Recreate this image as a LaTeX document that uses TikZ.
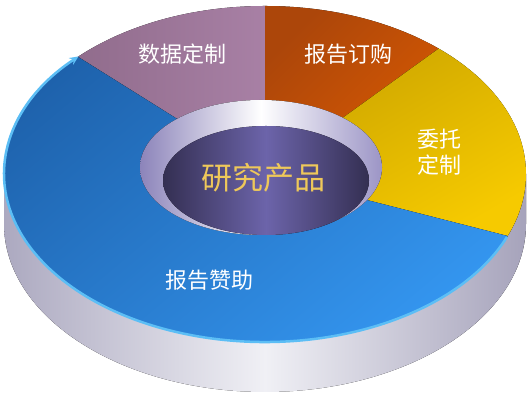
\documentclass[tikz,border=0pt]{standalone}
\usepackage{fontspec}
\usepackage{tikz}
\usetikzlibrary{arrows.meta}
\newfontfamily\cjk{Noto Sans CJK SC}
\definecolor{sideL}{RGB}{172, 169, 192}
\definecolor{sideM}{RGB}{240, 240, 245}
\definecolor{sideR}{RGB}{166, 163, 187}
\definecolor{mauveL}{RGB}{135, 100, 130}
\definecolor{mauveR}{RGB}{168, 128, 165}
\definecolor{rustL}{RGB}{172, 70, 10}
\definecolor{rustR}{RGB}{226, 94, 0}
\definecolor{goldL}{RGB}{196, 158, 0}
\definecolor{goldR}{RGB}{246, 202, 0}
\definecolor{blueL}{RGB}{30, 98, 172}
\definecolor{blueR}{RGB}{52, 150, 240}
\definecolor{rimblue}{RGB}{92, 190, 245}
\definecolor{bevelL}{RGB}{140, 132, 186}
\definecolor{bevelR}{RGB}{156, 149, 198}
\definecolor{holeD}{RGB}{52, 47, 82}
\definecolor{holeM}{RGB}{108, 100, 170}
\definecolor{coregold}{RGB}{238, 200, 90}
\tikzset{
  seglabel/.style={font=\cjk\fontsize{22}{26}\selectfont, text=white, align=center, inner sep=0pt},
  corelabel/.style={font=\cjk\fontsize{31}{34}\selectfont, text=coregold, inner sep=0pt},
  topring/.style={x radius=261pt, y radius=168pt}
}

\begin{document}
\begin{tikzpicture}[x=1pt,y=1pt]
    \useasboundingbox (0,0) rectangle (531,403);
    \coordinate (c) at (265,229);
    % side of the disc
    \fill[left color=sideL, right color=sideR, middle color=sideM]
      (4,229) arc[start angle=180, end angle=360, topring] -- (526,179)
      arc[start angle=0, end angle=-180, topring] -- cycle;
    % top face, four segments
    \begin{scope}
      \clip (c) ellipse[topring];
      \fill[left color=mauveL, right color=mauveR] (c) -- (0,395) -- (0,403) -- (265,403) -- cycle;
      \fill[top color=rustL, bottom color=rustR, shading angle=45] (c) -- (265,403) -- (506,403) -- cycle;
      \fill[top color=goldL, bottom color=goldR, shading angle=30] (c) -- (506,403) -- (531,403) -- (531,161) -- cycle;
      \fill[top color=blueL, bottom color=blueR, shading angle=40] (c) -- (531,161) -- (531,55) -- (0,55) -- (0,395) -- cycle;
    \end{scope}
    \draw[rimblue, line width=2.5pt, -{Stealth[length=9pt, width=8pt]}]
      (c) ++(-22:261pt and 168pt) arc[start angle=-22, end angle=-224.4, topring];
    % hole in the middle
    \fill[left color=bevelL, right color=bevelR, middle color=white]
      (261,235.5) ellipse[x radius=121pt, y radius=67.5pt];
    \fill[left color=holeD, right color=holeD, middle color=holeM]
      (266,222.5) ellipse[x radius=103pt, y radius=54.5pt];
    \node[seglabel] (shuju) at (182,349) {数据定制};
    \node[seglabel] (dinggou) at (348,349) {报告订购};
    \node[seglabel] (weituo) at (439,251) {委托\\定制};
    \node[seglabel] (zanzhu) at (209,123) {报告赞助};
    \node[corelabel] (core) at (263,225) {研究产品};
\end{tikzpicture}
\end{document}
